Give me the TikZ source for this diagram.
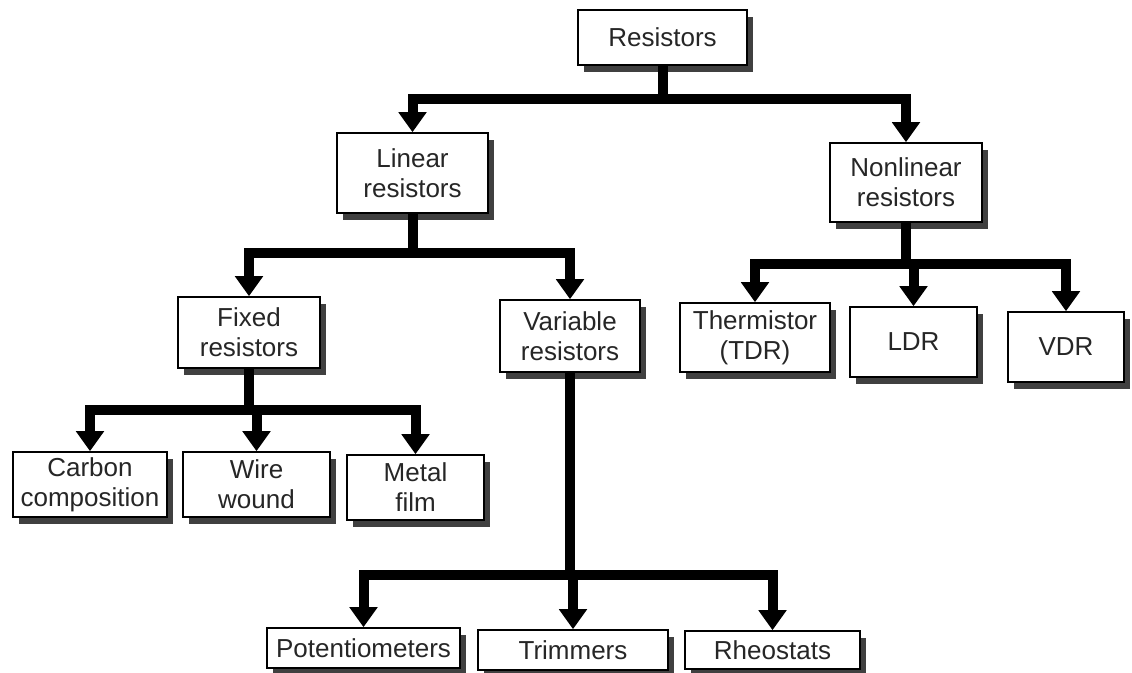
\documentclass[tikz,border=0pt]{standalone}
\usepackage{fontspec}
\setmainfont{Liberation Sans}
\usetikzlibrary{arrows.meta,shadows}

\begin{document}
\begin{tikzpicture}[x=1pt, y=-1pt, line join=miter,
  box/.style={draw, line width=1.6pt, fill=white, inner sep=0pt, align=center,
    font=\fontsize{26}{30}\selectfont, text=black!85,
    drop shadow={shadow xshift=6pt, shadow yshift=-7pt, fill=black!75, opacity=1}},
  stem/.style={line width=10pt},
  drop/.style={line width=10pt, -{Triangle[length=20pt, width=27pt]}}]

  %% ════ boxes ════
  \node[box, minimum width=169pt, minimum height=55pt] (res) at (662.5,37.5) {Resistors};

  \node[box, minimum width=151pt, minimum height=80pt] (lin) at (412.5,173.0) {Linear\\resistors};
  \node[box, minimum width=152pt, minimum height=79pt] (non) at (906.0,182.5) {Nonlinear\\resistors};

  \node[box, minimum width=142pt, minimum height=71pt] (fix) at (249.0,332.5) {Fixed\\resistors};
  \node[box, minimum width=140pt, minimum height=72pt] (var) at (570.0,336.0) {Variable\\resistors};

  \node[box, minimum width=150pt, minimum height=69pt] (thm) at (755.0,337.5) {Thermistor\\(TDR)};
  \node[box, minimum width=127pt, minimum height=70pt] (ldr) at (913.5,342.0) {LDR};
  \node[box, minimum width=116pt, minimum height=70pt] (vdr) at (1066.0,347.0) {VDR};

  \node[box, minimum width=154pt, minimum height=65pt] (car) at (90.0,484.5) {Carbon\\composition};
  \node[box, minimum width=147pt, minimum height=65pt] (wir) at (256.5,484.5) {Wire\\wound};
  \node[box, minimum width=137pt, minimum height=65pt] (met) at (415.5,487.5) {Metal\\film};

  \node[box, minimum width=193pt, minimum height=40pt] (pot) at (363.5,648.0) {Potentiometers};
  \node[box, minimum width=190pt, minimum height=40pt] (tri) at (573.0,650.0) {Trimmers};
  \node[box, minimum width=175pt, minimum height=38pt] (rhe) at (772.5,650.0) {Rheostats};

  %% ════ bus points ════
  \coordinate (resB) at (662.5,99.0);
  \coordinate (linB) at (412.5,253.0);
  \coordinate (nonB) at (906.0,264.0);
  \coordinate (fixB) at (249.0,410.0);
  \coordinate (varB) at (570.0,575.0);

  %% ════ connectors ════
  \draw[stem] (res.south) -- (resB);
  \foreach \c in {lin,non} \draw[drop] (resB) -| (\c.north);

  \draw[stem] (lin.south) -- (linB);
  \foreach \c in {fix,var} \draw[drop] (linB) -| (\c.north);

  \draw[stem] (non.south) -- (nonB);
  \foreach \c in {thm,ldr,vdr} \draw[drop] (nonB) -| (\c.north);

  \draw[stem] (fix.south) -- (fixB);
  \foreach \c in {car,wir,met} \draw[drop] (fixB) -| (\c.north);

  \draw[stem] (var.south) -- (varB);
  \foreach \c in {pot,tri,rhe} \draw[drop] (varB) -| (\c.north);

  % fix the canvas to the reference size
  \pgfresetboundingbox
  \path[use as bounding box] (0,0) rectangle (1132,672);
\end{tikzpicture}
\end{document}
